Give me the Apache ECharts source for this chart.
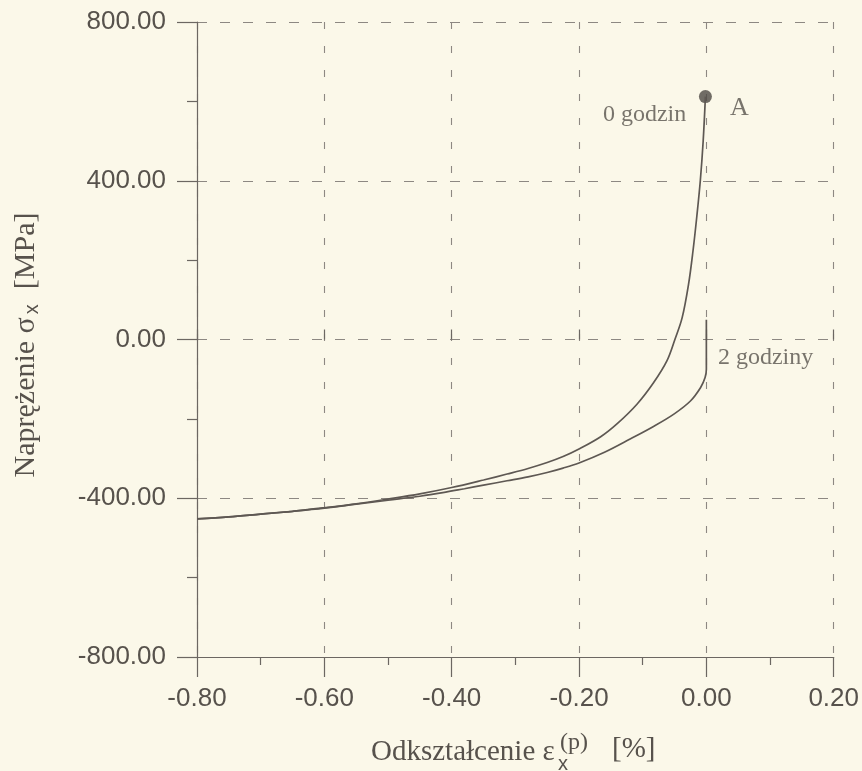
<!DOCTYPE html>
<html>
<head>
<meta charset="utf-8">
<script src="https://cdn.jsdelivr.net/npm/echarts@6/dist/echarts.min.js"></script>
<style>
  html, body { margin: 0; padding: 0; background: #fbf8e9; }
  #chart { width: 862px; height: 771px; }
</style>
</head>
<body>
<div id="chart"></div>
<script>
// Strain [%] vs stress [MPa] for the two ageing times
const curve0h = [
  [-0.80, -452], [-0.75, -447], [-0.70, -440], [-0.65, -433], [-0.60, -424],
  [-0.55, -414], [-0.50, -402], [-0.45, -389], [-0.40, -373], [-0.35, -354],
  [-0.313, -339], [-0.28, -325], [-0.25, -310], [-0.225, -295], [-0.20, -276],
  [-0.166, -245], [-0.14, -212], [-0.109, -163], [-0.083, -109], [-0.062, -54],
  [-0.049, 2], [-0.038, 55], [-0.028, 139], [-0.021, 223], [-0.015, 310],
  [-0.0094, 402], [-0.005, 500], [-0.0015, 612]
];
const curve2h = [
  [-0.80, -452], [-0.75, -447], [-0.70, -440], [-0.65, -433], [-0.60, -425],
  [-0.55, -415], [-0.50, -405], [-0.45, -395], [-0.414, -386], [-0.38, -376],
  [-0.35, -367], [-0.313, -356], [-0.28, -346], [-0.25, -335], [-0.225, -324],
  [-0.20, -311], [-0.16, -284], [-0.119, -250], [-0.083, -219], [-0.051, -188],
  [-0.025, -155], [-0.009, -121], [-0.002, -96], [0, -75], [0, -30], [0, 10], [0, 50]
];
const pointA = [-0.0015, 612];

// Text annotations anchored in data coordinates
const curveLabels = [
  { value: [-0.097, 566], text: '0 godzin' },
  { value: [0.093, -47], text: '2 godziny' }
];

const xTicks = { min: -0.8, max: 0.2, step: 0.2 };
const yTicks = { min: -800, max: 800, step: 400 };

const ink = '#57524c';
const axisInk = '#6c6762';
const gridInk = '#8d8882';
const serif = '"Liberation Serif", "Times New Roman", serif';
const sans = '"Liberation Sans", Arial, sans-serif';

const chart = echarts.init(document.getElementById('chart'));

chart.setOption({
  animation: false,
  backgroundColor: '#fbf8e9',
  grid: { left: 197, right: 28, top: 22, bottom: 114, containLabel: false },
  xAxis: [
    {
      type: 'value', min: xTicks.min, max: xTicks.max, interval: xTicks.step,
      position: 'bottom',
      axisLine: { show: true, onZero: false, lineStyle: { color: axisInk, width: 1.2 } },
      axisTick: { show: true, inside: false, length: 20, lineStyle: { color: axisInk, width: 1.2 } },
      minorTick: { show: true, splitNumber: 2, length: 8, lineStyle: { color: axisInk, width: 1.2 } },
      axisLabel: {
        margin: 29, color: ink, fontFamily: sans, fontSize: 26,
        formatter: v => v.toFixed(2)
      },
      splitLine: { show: true, lineStyle: { color: gridInk, width: 1.1, type: [7, 17] } }
    },
    {
      // inner half of the crossing ticks on the strain axis
      type: 'value', min: xTicks.min, max: xTicks.max, interval: xTicks.step,
      position: 'bottom',
      axisLine: { show: false },
      axisTick: { show: true, inside: true, length: 10, lineStyle: { color: axisInk, width: 1.2 } },
      axisLabel: { show: false },
      splitLine: { show: false }
    }
  ],
  yAxis: {
    type: 'value', min: yTicks.min, max: yTicks.max, interval: yTicks.step,
    axisLine: { show: true, onZero: false, lineStyle: { color: axisInk, width: 1.2 } },
    axisTick: { show: true, inside: false, length: 20, lineStyle: { color: axisInk, width: 1.2 } },
    minorTick: { show: true, splitNumber: 2, length: 10, lineStyle: { color: axisInk, width: 1.2 } },
    axisLabel: {
      margin: 31, color: ink, fontFamily: sans, fontSize: 26,
      formatter: v => v.toFixed(2)
    },
    splitLine: { show: true, lineStyle: { color: gridInk, width: 1.1, type: [10, 13] } }
  },
  series: [
    {
      name: '0 godzin', type: 'line', xAxisIndex: 0, data: curve0h,
      showSymbol: false, smooth: 0.35,
      lineStyle: { color: '#5e5853', width: 1.7 }
    },
    {
      name: '2 godziny', type: 'line', xAxisIndex: 0, data: curve2h,
      showSymbol: false, smooth: 0.35,
      lineStyle: { color: '#5e5853', width: 1.7 }
    },
    {
      name: 'A', type: 'scatter', xAxisIndex: 0, data: [pointA],
      symbol: 'circle', symbolSize: 13,
      itemStyle: { color: '#4d4843' },
      label: {
        show: true, position: 'right', distance: 18, offset: [0, 12],
        formatter: 'A', color: ink, fontFamily: serif, fontSize: 26
      }
    },
    {
      name: 'labels', type: 'scatter', xAxisIndex: 0, symbolSize: 0,
      data: curveLabels.map(d => ({ value: d.value, name: d.text })),
      label: {
        show: true, position: 'inside', formatter: p => p.name,
        color: ink, fontFamily: serif, fontSize: 24
      },
      silent: true
    }
  ],
  graphic: [
    {
      type: 'text', x: 26, y: 345, rotation: Math.PI / 2,
      style: {
        text: 'Naprężenie σ{sub|x}  [MPa]',
        fontFamily: serif, fontSize: 30, fill: ink,
        align: 'center', verticalAlign: 'middle',
        rich: {
          sub: { fontFamily: sans, fontSize: 20, fill: ink, verticalAlign: 'bottom', lineHeight: 33, padding: [0, 0, 0, 3] }
        }
      }
    },
    {
      type: 'text', x: 371, y: 752,
      style: { text: 'Odkształcenie ε', fontFamily: serif, fontSize: 29, fill: ink, align: 'left', verticalAlign: 'middle' }
    },
    {
      type: 'text', x: 560, y: 743,
      style: { text: '(p)', fontFamily: serif, fontSize: 24, fill: ink, align: 'left', verticalAlign: 'middle' }
    },
    {
      type: 'text', x: 558, y: 764,
      style: { text: 'x', fontFamily: sans, fontSize: 20, fill: ink, align: 'left', verticalAlign: 'middle' }
    },
    {
      type: 'text', x: 612, y: 749,
      style: { text: '[%]', fontFamily: serif, fontSize: 29, fill: ink, align: 'left', verticalAlign: 'middle' }
    }
  ]
});
</script>
</body>
</html>
